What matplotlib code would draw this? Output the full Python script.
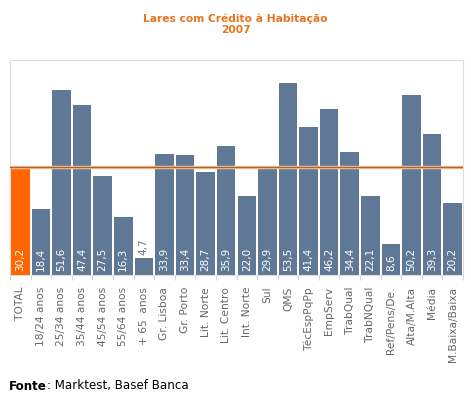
import numpy as np
import matplotlib
matplotlib.use("Agg")
from matplotlib import pyplot as plt

categories = ['TOTAL', '18/24 anos', '25/34 anos', '35/44 anos', '45/54 anos', '55/64 anos',
              '+ 65  anos', 'Gr. Lisboa', 'Gr. Porto', 'Lit. Norte', 'Lit. Centro', 'Int. Norte',
              'Sul', 'QMS', 'TécEspPqPp', 'EmpServ', 'TrabQual', 'TrabNQual', 'Ref/Pens/De.',
              'Alta/M.Alta', 'Média', 'M.Baixa/Baixa']
values = [30.2, 18.4, 51.6, 47.4, 27.5, 16.3, 4.7, 33.9, 33.4, 28.7, 35.9, 22.0,
          29.9, 53.5, 41.4, 46.2, 34.4, 22.1, 8.6, 50.2, 39.3, 20.2]
labels = ['30,2', '18,4', '51,6', '47,4', '27,5', '16,3', '4,7', '33,9', '33,4', '28,7', '35,9', '22,0',
          '29,9', '53,5', '41,4', '46,2', '34,4', '22,1', '8,6', '50,2', '39,3', '20,2']
total = values[0]

blue = '#5f7896'
orange = '#ff6600'

fig = plt.figure(figsize=(4.71, 3.98), dpi=100)
ax = fig.add_axes([10/471, 123/398, 453/471, 215/398])

x = np.arange(len(values))
colors = [orange] + [blue]*(len(values)-1)
ax.bar(x, values, width=0.9, color=colors, zorder=2)

# linha da media
ax.axhline(total, color='#f3c9a0', lw=2.5, zorder=3)
ax.axhline(total, color='#b4602a', lw=1, zorder=3)

for i, v in enumerate(values):
    if v < 8:
        ax.text(i, v + 1.0, labels[i], rotation=90, ha='center', va='bottom',
                color='#777777', fontsize=7.5, zorder=4)
    else:
        ax.text(i, 1.2, labels[i], rotation=90, ha='center', va='bottom',
                color='white', fontsize=7.5, zorder=4)

ax.set_xlim(-0.5, len(values)-0.5)
ax.set_ylim(0, 60)
ax.set_yticks([])
ax.set_xticks(x)
ax.set_xticklabels(categories, rotation=90, fontsize=7.7, color='#666666')
ax.tick_params(axis='x', which='major', length=0, pad=8.5)
ax.set_xticks(np.arange(-0.5, len(values), 1), minor=True)
ax.tick_params(axis='x', which='minor', length=3.6, color='#cccccc')
for s in ax.spines.values():
    s.set_color('#dddddd')

fig.text(0.5, 1 - 13.5/398, 'Lares com Crédito à Habitação\n2007', ha='center', va='top',
         color='#e8731f', fontsize=7.7, fontweight='bold', linespacing=1.15)

t = fig.text(9/471, 1 - 386/398, 'Fonte', fontsize=8.6, fontweight='bold', va='center', color='black')
fig.canvas.draw()
bb = t.get_window_extent()
fig.text(bb.x1/fig.bbox.width, 1 - 386/398, ': Marktest, Basef Banca', fontsize=8.6,
         va='center', color='black')

fig.savefig('out.png', dpi=100)
